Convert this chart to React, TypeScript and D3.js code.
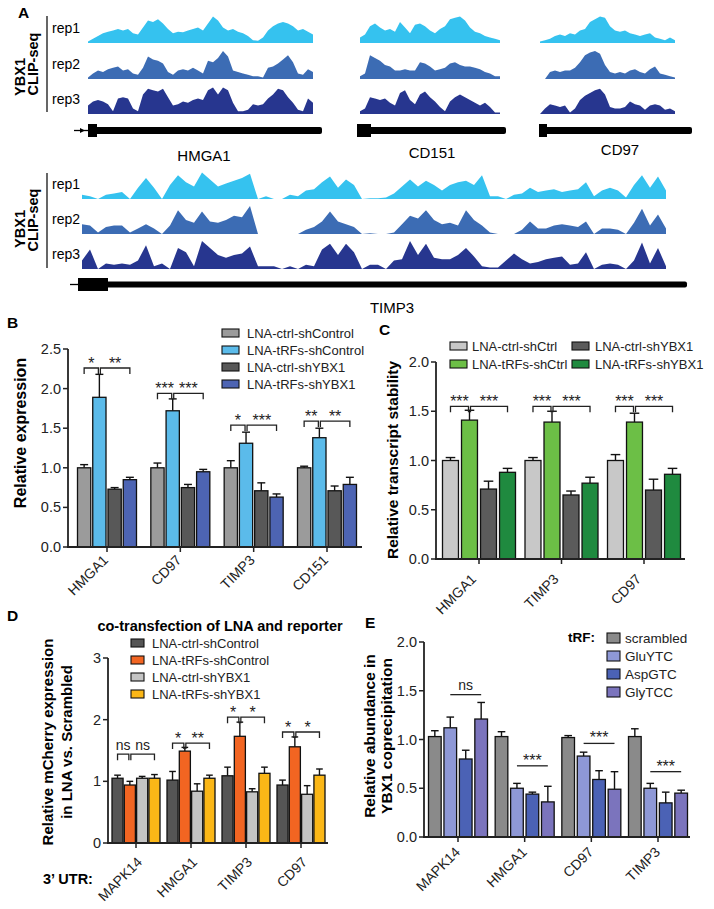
import React from "react";
import * as d3 from "d3";

const FONT = "'Liberation Sans', Arial, Helvetica, sans-serif";

// ================= Panel A: CLIP-seq coverage (relative height 0-1) =================
const repNames = ["rep1", "rep2", "rep3"];
const repColors = ["#35c2ef", "#3c6cb4", "#27368f"];
const topGeneNames = ["HMGA1", "CD151", "CD97"];
const bottomGeneName = "TIMP3";

const hmga1Cov = [
  [0.05, 0.15, 0.25, 0.35, 0.4, 0.45, 0.5, 0.45, 0.5, 0.35, 0.3, 0.55, 0.8, 0.75, 0.85, 0.7, 0.5, 0.35, 0.4, 0.38, 0.45, 0.5, 0.55, 0.45, 0.7, 0.95, 0.8, 0.55, 0.45, 0.5, 0.4, 0.35, 0.25, 0.1, 0.08, 0.2, 0.45, 0.6, 0.7, 0.75, 0.7, 0.6, 0.45, 0.5, 0.4, 0.3],
  [0.05, 0.2, 0.3, 0.25, 0.35, 0.4, 0.45, 0.3, 0.35, 0.2, 0.15, 0.4, 0.8, 0.7, 0.65, 0.55, 0.25, 0.15, 0.3, 0.35, 0.3, 0.4, 0.3, 0.2, 0.65, 0.6, 0.75, 1.0, 0.8, 0.3, 0.25, 0.2, 0.15, 0.1, 0.1, 0.05, 0.4, 0.45, 0.55, 0.7, 0.85, 0.6, 0.2, 0.15, 0.35, 0.25],
  [0.3, 0.45, 0.5, 0.45, 0.35, 0.1, 0.55, 0.6, 0.55, 0.2, 0.1, 0.7, 0.9, 0.85, 0.8, 0.9, 0.6, 0.3, 0.35, 0.45, 0.4, 0.5, 0.55, 0.5, 0.85, 0.95, 0.7, 0.95, 0.85, 0.4, 0.1, 0.1, 0.15, 0.35, 0.3, 0.35, 0.55, 0.7, 0.9, 0.85, 0.6, 0.4, 0.15, 0.1, 0.55, 0.4],
];
const cd151Cov = [
  [0.2, 0.3, 0.6, 0.7, 0.55, 0.45, 0.5, 0.4, 0.75, 0.55, 0.35, 0.65, 0.7, 0.6, 0.45, 0.35, 0.5, 0.6, 0.85, 0.9, 0.95, 0.8, 0.55, 0.4, 0.35, 0.25, 0.2, 0.15, 0.1],
  [0.1, 0.2, 0.85, 0.75, 0.65, 0.5, 0.45, 0.3, 0.3, 0.35, 0.3, 0.3, 0.6, 0.55, 0.45, 0.3, 0.35, 0.4, 0.55, 0.6, 0.5, 0.45, 0.45, 0.4, 0.35, 0.25, 0.2, 0.1, 0.1],
  [0.1, 0.2, 0.6, 0.55, 0.5, 0.55, 0.4, 0.3, 0.75, 0.85, 0.5, 0.35, 0.7, 0.8, 0.6, 0.45, 0.25, 0.1, 0.45, 0.6, 0.7, 0.6, 0.5, 0.4, 0.3, 0.4, 0.25, 0.05, 0.05],
];
const cd97Cov = [
  [0.05, 0.1, 0.15, 0.25, 0.3, 0.25, 0.35, 0.3, 0.45, 0.5, 0.75, 0.85, 0.95, 0.9, 0.6, 0.45, 0.4, 0.45, 0.35, 0.3, 0.25, 0.3, 0.35, 0.2, 0.15, 0.1, 0.2, 0.1],
  [0, 0, 0.25, 0.3, 0.25, 0.3, 0.3, 0.4, 0.6, 0.85, 0.95, 1.0, 0.9, 0.5, 0.25, 0.2, 0.25, 0.2, 0.3, 0.35, 0.25, 0.2, 0.35, 0.45, 0.2, 0.15, 0.1, 0.05],
  [0, 0.2, 0.35, 0.3, 0.25, 0.3, 0.05, 0.2, 0.5, 0.65, 0.75, 0.85, 0.9, 0.7, 0.25, 0.2, 0.2, 0.25, 0.45, 0.35, 0.3, 0.15, 0.3, 0.35, 0.3, 0.15, 0.2, 0.1],
];
const timp3Cov = [
  [0.15, 0.1, 0, 0.15, 0.2, 0.25, 0, 0.4, 0.75, 0.4, 0, 0.5, 0.85, 0.6, 0.45, 0.95, 0.7, 0.45, 0.55, 0.65, 0.75, 0.9, 0, 0.1, 0, 0, 0.15, 0.1, 0.3, 0.35, 0.6, 0.8, 0.4, 0.7, 0.5, 0, 0.03, 0.03, 0.05, 0.2, 0.45, 0.7, 0.45, 0.65, 0.5, 0.3, 0.5, 0.6, 0.65, 0.5, 0.85, 0.1, 0.1, 0, 0.15, 0.2, 0.4, 0.25, 0.3, 0.35, 0.25, 0.3, 0.35, 0.6, 0.1, 0.3, 0.4, 0.3, 0.05, 0.5, 0.85, 0.4, 0.8, 0.3],
  [0.35, 0.3, 0.05, 0.25, 0.3, 0.3, 0.05, 0.2, 0.35, 0.2, 0, 0.3, 0.85, 0.5, 0.4, 0.8, 0.45, 0.4, 0.5, 0.65, 0.6, 1.0, 0, 0, 0, 0, 0, 0, 0.15, 0.25, 0.45, 0.8, 0.45, 0.35, 0.25, 0, 0.03, 0, 0, 0.05, 0.35, 0.65, 0.55, 0.85, 0.5, 0.35, 0.4, 0.3, 0.85, 0.5, 0.3, 0.05, 0, 0, 0, 0.15, 0.45, 0.2, 0.2, 0.3, 0.35, 0.3, 0.25, 0.45, 0, 0.2, 0.2, 0.15, 0, 0.4, 0.9, 0.3, 0.7, 0.2],
  [0.3, 0.7, 0, 0.2, 0.15, 0.2, 0.15, 0.3, 0.85, 0.1, 0.2, 0, 0.75, 0.6, 0.1, 1.0, 0.75, 0.5, 0.4, 0.5, 0.55, 0.8, 0.1, 0.1, 0.1, 0, 0.1, 0, 0.15, 0.1, 0.7, 0.9, 0.5, 0.9, 0.6, 0, 0.15, 0.15, 0, 0.3, 0.35, 1.0, 0.5, 0.9, 0.4, 0.35, 0.35, 0.5, 0.75, 0.45, 0.1, 0.05, 0.05, 0.3, 0.55, 0.35, 0.2, 0.25, 0.35, 0.4, 0.45, 0.15, 0.2, 0.6, 0, 0.15, 0.2, 0.15, 0, 0.3, 0.95, 0.2, 0.75, 0.1],
];

// ================= Panel B =================
const bCats = ["HMGA1", "CD97", "TIMP3", "CD151"];
const bSeries = ["LNA-ctrl-shControl", "LNA-tRFs-shControl", "LNA-ctrl-shYBX1", "LNA-tRFs-shYBX1"];
const bColors = ["#9b9b9b", "#5bbbea", "#585858", "#4d64b3"];
const bMean = [[1.0, 1.89, 0.73, 0.85], [1.0, 1.72, 0.75, 0.95], [1.0, 1.31, 0.71, 0.63], [1.0, 1.38, 0.71, 0.79]];
const bSem = [[0.04, 0.29, 0.02, 0.03], [0.06, 0.15, 0.04, 0.03], [0.09, 0.14, 0.1, 0.04], [0.02, 0.12, 0.06, 0.09]];
const bTicks = [0, 0.5, 1, 1.5, 2, 2.5];
const bSigText = [["*", "**"], ["***", "***"], ["*", "***"], ["**", "**"]];
const bSigLevel = [2.26, 1.94, 1.54, 1.59];

// ================= Panel C =================
const cCats = ["HMGA1", "TIMP3", "CD97"];
const cSeries = ["LNA-ctrl-shCtrl", "LNA-tRFs-shCtrl", "LNA-ctrl-shYBX1", "LNA-tRFs-shYBX1"];
const cColors = ["#c8c8c8", "#6cbf46", "#5b5b5b", "#1f8a3f"];
const cMean = [[1.0, 1.41, 0.71, 0.88], [1.0, 1.39, 0.65, 0.77], [1.0, 1.39, 0.7, 0.86]];
const cSem = [[0.03, 0.1, 0.08, 0.04], [0.03, 0.11, 0.04, 0.06], [0.06, 0.09, 0.11, 0.06]];
const cTicks = [0, 0.5, 1, 1.5, 2];
const cSigText = [["***", "***"], ["***", "***"], ["***", "***"]];
const cSigLevel = [1.55, 1.55, 1.55];

// ================= Panel D =================
const dTitle = "co-transfection of LNA and reporter";
const dCats = ["MAPK14", "HMGA1", "TIMP3", "CD97"];
const dSeries = ["LNA-ctrl-shControl", "LNA-tRFs-shControl", "LNA-ctrl-shYBX1", "LNA-tRFs-shYBX1"];
const dColors = ["#555555", "#f26522", "#c4c4c4", "#fbb717"];
const dMean = [[1.05, 0.94, 1.05, 1.05], [1.02, 1.49, 0.84, 1.05], [1.09, 1.73, 0.83, 1.13], [0.94, 1.56, 0.79, 1.1]];
const dSem = [[0.05, 0.06, 0.03, 0.06], [0.14, 0.06, 0.12, 0.05], [0.14, 0.23, 0.05, 0.1], [0.08, 0.16, 0.14, 0.1]];
const dTicks = [0, 1, 2, 3];
const dSigText = [["ns", "ns"], ["*", "**"], ["*", "*"], ["*", "*"]];
const dSigLevel = [1.44, 1.62, 2.04, 1.8];

// ================= Panel E =================
const eCats = ["MAPK14", "HMGA1", "CD97", "TIMP3"];
const eSeries = ["scrambled", "GluYTC", "AspGTC", "GlyTCC"];
const eColors = ["#8a8a8a", "#8e98d6", "#4b62b5", "#7b74bd"];
const eMean = [[1.03, 1.12, 0.8, 1.21], [1.03, 0.5, 0.44, 0.36], [1.02, 0.83, 0.59, 0.49], [1.03, 0.5, 0.35, 0.45]];
const eSem = [[0.06, 0.11, 0.09, 0.17], [0.05, 0.05, 0.02, 0.16], [0.02, 0.04, 0.09, 0.18], [0.08, 0.05, 0.11, 0.03]];
const eTicks = [0, 0.5, 1, 1.5, 2];
const eSigText = ["ns", "***", "***", "***"];
const eSigLevel = [1.46, 0.73, 0.96, 0.67];

// ================= components =================
function Track({ values, x0, step, base, h, color }: any) {
  const x = d3.scaleLinear().domain([0, values.length - 1]).range([x0, x0 + (values.length - 1) * step]);
  const y = d3.scaleLinear().domain([0, 1]).range([base, base - h]);
  const area = d3
    .area<number>()
    .x((_, i) => x(i))
    .y0(base)
    .y1((d) => y(d))
    .curve(d3.curveLinear);
  return <path d={area(values) || ""} fill={color} />;
}

function Gene({ x0, x1, boxW, y, lineH, boxH, lead }: any) {
  return (
    <g>
      {lead ? <line x1={lead} x2={x0} y1={y} y2={y} stroke="#000" strokeWidth={1.3} /> : null}
      <rect x={x0} y={y - lineH / 2} width={x1 - x0} height={lineH} rx={2} fill="#000" />
      <rect x={x0} y={y - boxH / 2} width={boxW} height={boxH} fill="#000" />
    </g>
  );
}

function RepLabels({ bases, lineX, lineTop, lineBottom, ybxY, clipY }: any) {
  return (
    <g>
      <line x1={lineX} x2={lineX} y1={lineTop} y2={lineBottom} stroke="#000" strokeWidth={1.2} />
      {repNames.map((r, i) => (
        <text key={r} x={52} y={bases[i] - 10} fontSize={14}>
          {r}
        </text>
      ))}
      <text transform={`translate(25,${ybxY}) rotate(-90)`} textAnchor="middle" fontSize={14.5} fontWeight="bold">
        YBX1
      </text>
      <text transform={`translate(38,${clipY}) rotate(-90)`} textAnchor="middle" fontSize={14.5} fontWeight="bold">
        CLIP-seq
      </text>
    </g>
  );
}

function BarPanel(p: any) {
  const y = d3.scaleLinear().domain(p.yDomain).range(p.yPx);
  const xc = d3.scalePoint<string>().domain(p.cats).range(p.centers);
  const xi = d3.scaleBand<string>().domain(p.series).range([-p.half, p.half]).paddingInner(p.pad);
  const bw = xi.bandwidth();
  const y0 = y(0);
  const left = (ci: number, si: number) => (xc(p.cats[ci]) as number) + (xi(p.series[si]) as number);
  const cx = (ci: number, si: number) => left(ci, si) + bw / 2;
  const capW = bw * 0.6;
  const tickLen = 6;
  const sigY = (t: string) => (t === "ns" ? -4 : 1);
  const sigFs = (t: string) => (t === "ns" ? 14 : 16);
  return (
    <g>
      {p.cats.map((c: string, ci: number) =>
        p.series.map((s: string, si: number) => {
          const m = p.mean[ci][si];
          const e = p.sem[ci][si];
          const x = cx(ci, si);
          return (
            <g key={c + s}>
              <line x1={x} x2={x} y1={y(m)} y2={y(m + e)} stroke="#111" strokeWidth={1.4} />
              <line x1={x - capW / 2} x2={x + capW / 2} y1={y(m + e)} y2={y(m + e)} stroke="#111" strokeWidth={1.4} />
              <rect x={left(ci, si)} y={y(m)} width={bw} height={y0 - y(m)} fill={p.colors[si]} stroke="#111" strokeWidth={1.3} />
            </g>
          );
        })
      )}
      {/* axes */}
      <line x1={p.axisX} x2={p.axisX} y1={y0} y2={y(p.yDomain[1])} stroke="#222" strokeWidth={1.8} />
      <line x1={p.axisX - 1} x2={p.axisEnd} y1={y0} y2={y0} stroke="#222" strokeWidth={1.8} />
      {p.ticks.map((t: number) => (
        <g key={t}>
          <line x1={p.axisX - 5} x2={p.axisX} y1={y(t)} y2={y(t)} stroke="#222" strokeWidth={1.5} />
          <text x={p.axisX - 7} y={y(t)} dy="0.35em" textAnchor="end" fontSize={14.5} fill="#222">
            {p.fmt(t)}
          </text>
        </g>
      ))}
      {p.cats.map((c: string) => (
        <g key={c}>
          <line x1={xc(c)} x2={xc(c)} y1={y0} y2={y0 + 5} stroke="#222" strokeWidth={1.5} />
          <text
            transform={`translate(${(xc(c) as number) + p.lab[0]},${y0 + p.lab[1]}) rotate(-45)`}
            textAnchor="end"
            fontSize={14}
            fill="#222"
          >
            {c}
          </text>
        </g>
      ))}
      {/* significance */}
      {p.cats.map((c: string, ci: number) => {
        const ly = y(p.sigLevel[ci]);
        if (p.sigKind === "line") {
          const a = cx(ci, 1);
          const b = cx(ci, 3);
          const txt = p.sigText[ci];
          return (
            <g key={"s" + c}>
              <line x1={a} x2={b} y1={ly} y2={ly} stroke="#222" strokeWidth={1.3} />
              <text x={(a + b) / 2} y={ly + sigY(txt) - 1} textAnchor="middle" fontSize={sigFs(txt)} fill="#222">
                {txt}
              </text>
            </g>
          );
        }
        const a0 = cx(ci, 0);
        const a1 = cx(ci, 1) - 1;
        const b0 = cx(ci, 1) + 1;
        const b1 = cx(ci, 3);
        const [t1, t2] = p.sigText[ci];
        return (
          <g key={"s" + c}>
            <path d={`M${a0},${ly + tickLen}V${ly}H${a1}V${ly + tickLen}`} fill="none" stroke="#222" strokeWidth={1.3} />
            <path d={`M${b0},${ly + tickLen}V${ly}H${b1}V${ly + tickLen}`} fill="none" stroke="#222" strokeWidth={1.3} />
            <text x={(a0 + a1) / 2} y={ly + sigY(t1)} textAnchor="middle" fontSize={sigFs(t1)} fill="#222">
              {t1}
            </text>
            <text x={(b0 + b1) / 2} y={ly + sigY(t2)} textAnchor="middle" fontSize={sigFs(t2)} fill="#222">
              {t2}
            </text>
          </g>
        );
      })}
    </g>
  );
}

function Legend({ items, colors, x, ys, sw, sh, tx, fs }: any) {
  return (
    <g>
      {items.map((it: string, i: number) => (
        <g key={it}>
          <rect x={x} y={ys[i] - sh / 2} width={sw} height={sh} fill={colors[i]} stroke="#111" strokeWidth={1.1} />
          <text x={tx} y={ys[i]} dy="0.36em" fontSize={fs} fill="#222">
            {it}
          </text>
        </g>
      ))}
    </g>
  );
}

export default function App() {
  const topBases = [43, 79, 114];
  const botBases = [199, 234, 269];
  const trackH = 28;
  return (
    <svg
      width={714}
      height={909}
      style={{ position: "fixed", left: 0, top: 0, display: "block" }}
      fontFamily={FONT}
    >
      <rect width={714} height={909} fill="#fff" />

      {/* ===== Panel A ===== */}
      <text x={18} y={18} fontSize={15.5} fontWeight="bold">A</text>
      <RepLabels bases={topBases} lineX={47} lineTop={16} lineBottom={112} ybxY={77} clipY={64} />
      {[hmga1Cov, cd151Cov, cd97Cov].map((cov, gi) =>
        cov.map((vals, ri) => (
          <Track
            key={gi + "-" + ri}
            values={vals}
            x0={[88, 360, 540][gi]}
            step={5}
            base={topBases[ri]}
            h={trackH}
            color={repColors[ri]}
          />
        ))
      )}
      <Gene x0={88} x1={322} boxW={9} y={130.5} lineH={7} boxH={13} lead={74} />
      <path d="M80,128 L85,130.5 L80,133 Z" fill="#000" />
      <Gene x0={357} x1={506} boxW={14} y={130.5} lineH={7} boxH={13} />
      <Gene x0={539} x1={692} boxW={8} y={130.5} lineH={7} boxH={13} />
      <text x={204} y={161} textAnchor="middle" fontSize={15}>{topGeneNames[0]}</text>
      <text x={432} y={158} textAnchor="middle" fontSize={15}>{topGeneNames[1]}</text>
      <text x={620} y={155} textAnchor="middle" fontSize={15}>{topGeneNames[2]}</text>

      <RepLabels bases={botBases} lineX={47} lineTop={173} lineBottom={268} ybxY={229} clipY={220} />
      {timp3Cov.map((vals, ri) => (
        <Track key={"t" + ri} values={vals} x0={82} step={8} base={botBases[ri]} h={trackH} color={repColors[ri]} />
      ))}
      <Gene x0={78} x1={687} boxW={30} y={284.5} lineH={6} boxH={13} lead={70} />
      <text x={392} y={313} textAnchor="middle" fontSize={15}>{bottomGeneName}</text>

      {/* ===== Panel B ===== */}
      <text x={7} y={328} fontSize={15.5} fontWeight="bold">B</text>
      <Legend items={bSeries} colors={bColors} x={222} ys={[333, 350, 367, 384]} sw={17} sh={8} tx={247} fs={13} />
      <text transform="translate(26,433) rotate(-90)" textAnchor="middle" fontSize={16} fontWeight="bold">
        Relative expression
      </text>
      <BarPanel
        cats={bCats}
        series={bSeries}
        colors={bColors}
        mean={bMean}
        sem={bSem}
        yDomain={[0, 2.5]}
        yPx={[547, 349]}
        ticks={bTicks}
        fmt={(t: number) => t.toFixed(1)}
        axisX={68}
        axisEnd={362}
        centers={[107, 327]}
        half={29.5}
        pad={0.13}
        lab={[2, 14]}
        sigKind="bracket"
        sigText={bSigText}
        sigLevel={bSigLevel}
      />

      {/* ===== Panel C ===== */}
      <text x={379} y={335} fontSize={15.5} fontWeight="bold">C</text>
      <Legend items={[cSeries[0], cSeries[1]]} colors={[cColors[0], cColors[1]]} x={450} ys={[346, 364]} sw={17} sh={8} tx={472} fs={13} />
      <Legend items={[cSeries[2], cSeries[3]]} colors={[cColors[2], cColors[3]]} x={572} ys={[346, 364]} sw={17} sh={8} tx={595} fs={13} />
      <text transform="translate(398,460) rotate(-90)" textAnchor="middle" fontSize={15.5} fontWeight="bold">
        Relative transcript stability
      </text>
      <BarPanel
        cats={cCats}
        series={cSeries}
        colors={cColors}
        mean={cMean}
        sem={cSem}
        yDomain={[0, 2]}
        yPx={[559, 362]}
        ticks={cTicks}
        fmt={(t: number) => t.toFixed(1)}
        axisX={436}
        axisEnd={685}
        centers={[479, 644]}
        half={36.5}
        pad={0.16}
        lab={[-2, 21]}
        sigKind="bracket"
        sigText={cSigText}
        sigLevel={cSigLevel}
      />

      {/* ===== Panel D ===== */}
      <text x={7} y={621} fontSize={15.5} fontWeight="bold">D</text>
      <text x={220} y={631} textAnchor="middle" fontSize={14.5} fontWeight="bold">{dTitle}</text>
      <Legend items={dSeries} colors={dColors} x={131} ys={[643, 660, 677, 694]} sw={13} sh={8} tx={152} fs={13} />
      <text transform="translate(53,742) rotate(-90)" textAnchor="middle" fontSize={15} fontWeight="bold">
        Relative mCherry expression
      </text>
      <text transform="translate(72,742) rotate(-90)" textAnchor="middle" fontSize={15} fontWeight="bold">
        in LNA vs. Scrambled
      </text>
      <text x={43} y={884} fontSize={14.5} fontWeight="bold">3’ UTR:</text>
      <BarPanel
        cats={dCats}
        series={dSeries}
        colors={dColors}
        mean={dMean}
        sem={dSem}
        yDomain={[0, 3]}
        yPx={[843, 658]}
        ticks={dTicks}
        fmt={(t: number) => String(t)}
        axisX={108}
        axisEnd={328}
        centers={[136, 301]}
        half={24}
        pad={0.1}
        lab={[7, 20]}
        sigKind="bracket"
        sigText={dSigText}
        sigLevel={dSigLevel}
      />

      {/* ===== Panel E ===== */}
      <text x={365} y={628} fontSize={15.5} fontWeight="bold">E</text>
      <text x={568} y={642} fontSize={13.5} fontWeight="bold">tRF:</text>
      <Legend items={eSeries} colors={eColors} x={607} ys={[638, 656, 674, 692]} sw={13} sh={10} tx={625} fs={13.5} />
      <text transform="translate(375,736) rotate(-90)" textAnchor="middle" fontSize={15.5} fontWeight="bold">
        Relative abundance in
      </text>
      <text transform="translate(392,736) rotate(-90)" textAnchor="middle" fontSize={15.5} fontWeight="bold">
        YBX1 coprecipitation
      </text>
      <BarPanel
        cats={eCats}
        series={eSeries}
        colors={eColors}
        mean={eMean}
        sem={eSem}
        yDomain={[0, 2]}
        yPx={[837, 642]}
        ticks={eTicks}
        fmt={(t: number) => t.toFixed(1)}
        axisX={424}
        axisEnd={690}
        centers={[458, 658]}
        half={29.5}
        pad={0.18}
        lab={[3, 16]}
        sigKind="line"
        sigText={eSigText}
        sigLevel={eSigLevel}
      />
    </svg>
  );
}
